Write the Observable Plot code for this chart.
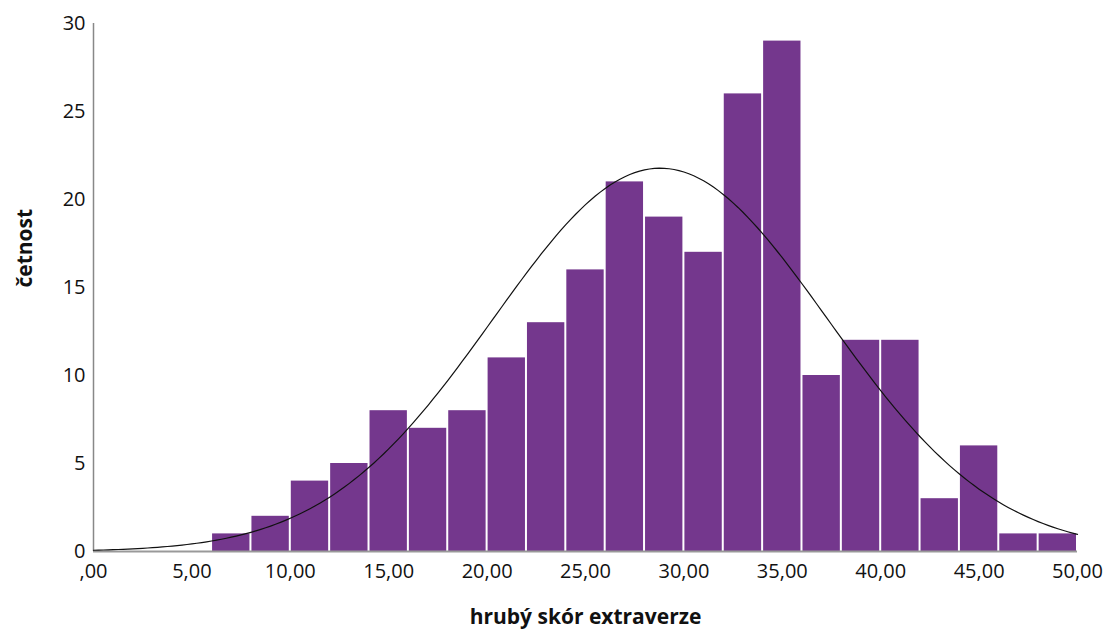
<!DOCTYPE html>
<html>
<head>
<meta charset="utf-8">
<script src="https://cdn.jsdelivr.net/npm/d3@7"></script>
<script src="https://cdn.jsdelivr.net/npm/@observablehq/plot@0.6"></script>
<style>
  html, body { margin: 0; padding: 0; background: #fff; }
  #chart svg { display: block; }
</style>
</head>
<body>
<div id="chart"></div>
<script>
// Histogram bins (lower edge, upper edge) and frequencies
const binStart = [6, 8, 10, 12, 14, 16, 18, 20, 22, 24, 26, 28, 30, 32, 34, 36, 38, 40, 42, 44, 46, 48];
const binEnd   = [8, 10, 12, 14, 16, 18, 20, 22, 24, 26, 28, 30, 32, 34, 36, 38, 40, 42, 44, 46, 48, 50];
const counts   = [1, 2, 4, 5, 8, 7, 8, 11, 13, 16, 21, 19, 17, 26, 29, 10, 12, 12, 3, 6, 1, 1];

// Normal curve parameters (as fitted by the original software)
const normMean = 28.8;
const normSD = 8.5;
const binWidth = 2;

const xTicks = [0, 5, 10, 15, 20, 25, 30, 35, 40, 45, 50];
const xTickLabels = [",00", "5,00", "10,00", "15,00", "20,00", "25,00", "30,00", "35,00", "40,00", "45,00", "50,00"];
const yTicks = [0, 5, 10, 15, 20, 25, 30];

const bars = binStart.map((s, i) => ({x1: s, x2: binEnd[i], y: counts[i]}));
const N = d3.sum(counts);
const curve = d3.range(0, 50.001, 0.25).map(x => ({
  x,
  y: N * binWidth / (normSD * Math.sqrt(2 * Math.PI)) * Math.exp(-0.5 * ((x - normMean) / normSD) ** 2)
}));

const font = "'Open Sans', 'Noto Sans', sans-serif";

const chart = Plot.plot({
  width: 1117,
  height: 635,
  marginLeft: 93,
  marginRight: 40,
  marginTop: 23,
  marginBottom: 84,
  style: {fontFamily: font, background: "#fff", color: "#111"},
  x: {domain: [0, 50]},
  y: {domain: [0, 30]},
  marks: [
    Plot.rectY(bars, {x1: "x1", x2: "x2", y: "y", fill: "#74378D", insetLeft: 1, insetRight: 1}),
    Plot.ruleX([0], {stroke: "#888", strokeWidth: 1.5}),
    Plot.ruleY([0], {stroke: "#999", strokeWidth: 2}),
    Plot.line(curve, {x: "x", y: "y", stroke: "#111", strokeWidth: 1.2}),
    Plot.axisY(yTicks, {tickSize: 0, tickPadding: 8, fontSize: 20, label: null}),
    Plot.axisX(xTicks, {tickSize: 0, tickPadding: 12, fontSize: 20, label: null,
      tickFormat: (d) => xTickLabels[xTicks.indexOf(d)]}),
    Plot.text(["hrubý skór extraverze"], {frameAnchor: "bottom", dy: 72, fontSize: 21, fontWeight: "bold"}),
    Plot.text(["četnost"], {frameAnchor: "left", dx: -68, rotate: -90, fontSize: 21, fontWeight: "bold"})
  ]
});
document.getElementById("chart").appendChild(chart);
</script>
</body>
</html>
